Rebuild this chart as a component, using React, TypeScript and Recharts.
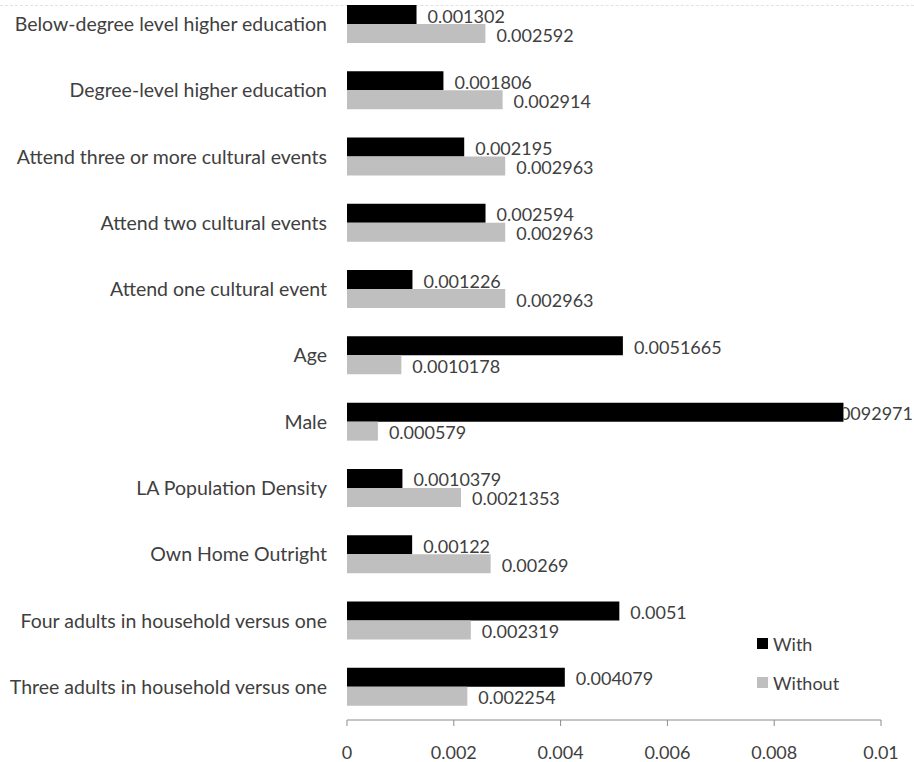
import React from 'react';
import { BarChart, Bar, XAxis, YAxis, Legend, LabelList } from 'recharts';

const categories = [
  'Below-degree level higher education',
  'Degree-level higher education',
  'Attend three or more cultural events',
  'Attend two cultural events',
  'Attend one cultural event',
  'Age',
  'Male',
  'LA Population Density',
  'Own Home Outright',
  'Four adults in household versus one',
  'Three adults in household versus one',
];

const withValues = [
  0.001302, 0.001806, 0.002195, 0.002594, 0.001226, 0.0051665, 0.0092971, 0.0010379, 0.00122, 0.0051,
  0.004079,
];

const withoutValues = [
  0.002592, 0.002914, 0.002963, 0.002963, 0.002963, 0.0010178, 0.000579, 0.0021353, 0.00269, 0.002319,
  0.002254,
];

const xTicks = [0, 0.002, 0.004, 0.006, 0.008, 0.01];
const xTickLabels = ['0', '0.002', '0.004', '0.006', '0.008', '0.01'];

// category boundaries, used only for the small tick marks between groups
const boundaryTicks = [0, 1, 2, 3, 4, 5, 6, 7, 8, 9, 10, 11];

const seriesNames = ['With', 'Without'];

const data = categories.map((name, i) => ({
  name,
  with: withValues[i],
  without: withoutValues[i],
}));

const CHART_W = 914;
const CHART_H = 771;
const FONT = 'Lato, "Open Sans", "DejaVu Sans", sans-serif';
const TEXT = '#404040';
const AXIS = '#8c8c8c';
const WITH_FILL = '#000000';
const WITHOUT_FILL = '#bfbfbf';
const LABEL_SIZE = 18;

// Value label to the right of each bar; a label that would run past the
// chart's right edge is pulled back inside and hidden where it meets the bar.
const ValueLabel = (props: any) => {
  const { x, y, width, height, value, index } = props;
  const text = String(value);
  const barEnd = Number(x) + Number(width);
  const start = barEnd + 11;
  const approx = text.length * LABEL_SIZE * 0.54;
  const overflow = start + approx > CHART_W;
  const clipId = `value-clip-${index}-${text.replace('.', '')}`;
  return (
    <g>
      {overflow && (
        <defs>
          <clipPath id={clipId}>
            <rect x={barEnd} y={Number(y) - 10} width={CHART_W - barEnd} height={Number(height) + 20} />
          </clipPath>
        </defs>
      )}
      <text
        x={overflow ? CHART_W - 1 : start}
        y={Number(y) + Number(height) / 2 + 1}
        textAnchor={overflow ? 'end' : 'start'}
        dominantBaseline="central"
        fill={TEXT}
        fontSize={LABEL_SIZE}
        fontFamily={FONT}
        clipPath={overflow ? `url(#${clipId})` : undefined}
      >
        {text}
      </text>
    </g>
  );
};

const LegendBox = () => (
  <div style={{ fontFamily: FONT, fontSize: 18, color: TEXT }}>
    {seriesNames.map((n, i) => (
      <div key={n} style={{ display: 'flex', alignItems: 'center', height: 39 }}>
        <span
          style={{
            display: 'inline-block',
            width: 11,
            height: 11,
            background: i === 0 ? WITH_FILL : WITHOUT_FILL,
            marginRight: 5,
          }}
        />
        <span>{n}</span>
      </div>
    ))}
  </div>
);

export default function App() {
  return (
    <div style={{ position: 'absolute', left: 0, top: 0, width: CHART_W, height: 762, overflow: 'hidden', background: '#fff' }}>
      <div
        style={{
          position: 'absolute',
          left: 0,
          top: 5,
          width: CHART_W,
          borderTop: '1px dashed #e2e2e2',
        }}
      />
      <div style={{ position: 'absolute', left: 0, top: -9 }}>
        <BarChart
          width={CHART_W}
          height={CHART_H}
          data={data}
          layout="vertical"
          margin={{ top: 0, right: 33, bottom: 0, left: 0 }}
          barGap={0}
          barSize={19}
        >
          <XAxis
            type="number"
            domain={[0, 0.01]}
            ticks={xTicks}
            tickFormatter={(v: number) => xTickLabels[xTicks.indexOf(v)] ?? String(v)}
            height={42}
            tickSize={6}
            tickMargin={20}
            axisLine={{ stroke: AXIS }}
            tickLine={{ stroke: AXIS }}
            tick={{ fill: TEXT, fontSize: 18, fontFamily: FONT }}
          />
          <YAxis
            yAxisId="grid"
            type="number"
            domain={[0, 11]}
            ticks={boundaryTicks}
            tick={false}
            width={0}
            tickSize={5}
            axisLine={{ stroke: AXIS }}
            tickLine={{ stroke: AXIS }}
          />
          <YAxis
            yAxisId="cat"
            type="category"
            dataKey="name"
            width={347}
            tickSize={5}
            tickMargin={15}
            interval={0}
            axisLine={false}
            tickLine={false}
            tick={{ fill: TEXT, fontSize: 19.5, fontFamily: FONT }}
          />
          <Bar yAxisId="cat" dataKey="with" name="With" fill={WITH_FILL} isAnimationActive={false}>
            <LabelList dataKey="with" content={ValueLabel} />
          </Bar>
          <Bar yAxisId="cat" dataKey="without" name="Without" fill={WITHOUT_FILL} isAnimationActive={false}>
            <LabelList dataKey="without" content={ValueLabel} />
          </Bar>
          <Legend
            layout="vertical"
            align="center"
            verticalAlign="middle"
            content={LegendBox}
            wrapperStyle={{ left: 757, top: 633, right: 'auto', bottom: 'auto', width: 140 }}
          />
        </BarChart>
      </div>
    </div>
  );
}
